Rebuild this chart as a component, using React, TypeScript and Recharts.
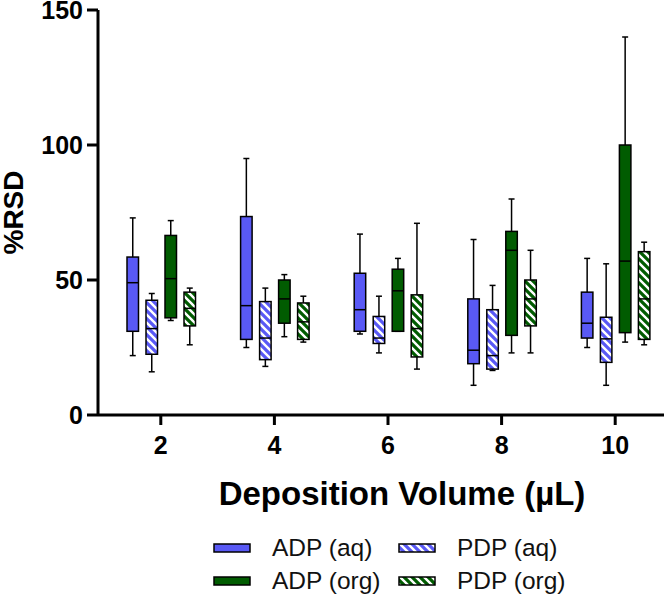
import React from 'react';
import { ComposedChart, Bar, XAxis, YAxis, Legend } from 'recharts';

const categories = ['2', '4', '6', '8', '10'];
// each entry: [min, q1, median, q3, max]
const adpAq = [
  [22, 31, 49, 58.5, 73],
  [25, 28, 40.5, 73.5, 95],
  [30, 31, 39, 52.5, 67],
  [11, 19, 24, 43, 65],
  [25, 28.5, 34, 45.5, 58],
];
const pdpAq = [
  [16, 22.5, 32, 42.5, 45],
  [18, 20.5, 28.5, 42, 47],
  [23, 26.5, 28.5, 36.5, 44],
  [16.5, 17, 22, 39, 48],
  [11, 19.5, 28.2, 36.2, 56],
];
const adpOrg = [
  [35, 36, 50.5, 66.5, 72],
  [29, 34, 43, 50, 52],
  [31, 31, 46, 54, 58],
  [23, 29.5, 61, 68, 80],
  [27, 30.5, 57, 100, 140],
];
const pdpOrg = [
  [26, 33, 39.5, 45.5, 47],
  [27, 28, 34.5, 41.5, 44],
  [17, 21.5, 32, 44.5, 71],
  [23, 33, 43, 50, 61],
  [26, 28, 43, 60.5, 64],
];
const yTicks = [0, 50, 100, 150];

const BLUE = '#5959F5';
const GREEN = '#015C01';
const FONT = '"Liberation Sans", Arial, Helvetica, sans-serif';

const series = [
  { key: 'adpAq', name: 'ADP (aq)', stats: adpAq, color: BLUE, hatched: false },
  { key: 'pdpAq', name: 'PDP (aq)', stats: pdpAq, color: BLUE, hatched: true },
  { key: 'adpOrg', name: 'ADP (org)', stats: adpOrg, color: GREEN, hatched: false },
  { key: 'pdpOrg', name: 'PDP (org)', stats: pdpOrg, color: GREEN, hatched: true },
];

const data = categories.map((cat, i) => {
  const row: any = { cat };
  series.forEach((s) => {
    row[s.key] = [s.stats[i][1], s.stats[i][3]];
  });
  return row;
});

function fillFor(s: any, prefix: string) {
  return s.hatched ? `url(#${prefix}-${s.key})` : s.color;
}

function Patterns({ prefix }: { prefix: string }) {
  return (
    <defs>
      {series.filter((s) => s.hatched).map((s) => (
        <pattern
          key={s.key}
          id={`${prefix}-${s.key}`}
          patternUnits="userSpaceOnUse"
          width={8}
          height={8}
        >
          <rect x={0} y={0} width={8} height={8} fill={s.color} />
          <path d="M-2,-2 L10,10 M-2,6 L2,10 M6,-2 L10,2" stroke="#fff" strokeWidth={2.4} />
        </pattern>
      ))}
    </defs>
  );
}

function makeShape(s: any) {
  return (props: any) => {
    const { x, y, width, height, payload } = props;
    let idx = props.index;
    if (idx === undefined || idx === null) idx = categories.indexOf(payload?.cat);
    const st = s.stats[idx];
    if (!st) return null;
    const [mn, q1, md, q3, mx] = st;
    const top = Math.min(y, y + height);
    const h = Math.abs(height);
    const px = (v: number) => top + (h * (q3 - v)) / (q3 - q1);
    const cx = x + width / 2;
    const cap = 3;
    const sw = 1.5;
    return (
      <g>
        <line x1={cx} x2={cx} y1={px(mx)} y2={top} stroke="#000" strokeWidth={sw} />
        <line x1={cx - cap} x2={cx + cap} y1={px(mx)} y2={px(mx)} stroke="#000" strokeWidth={sw} />
        <line x1={cx} x2={cx} y1={top + h} y2={px(mn)} stroke="#000" strokeWidth={sw} />
        <line x1={cx - cap} x2={cx + cap} y1={px(mn)} y2={px(mn)} stroke="#000" strokeWidth={sw} />
        <rect x={x} y={top} width={width} height={h} fill={fillFor(s, 'pat')} stroke="#000" strokeWidth={sw} />
        <line x1={x} x2={x + width} y1={px(md)} y2={px(md)} stroke="#000" strokeWidth={sw} />
      </g>
    );
  };
}

function renderLegend() {
  const items = [
    { s: series[0], left: 213, top: 15 },
    { s: series[1], left: 398, top: 15 },
    { s: series[2], left: 213, top: 48 },
    { s: series[3], left: 398, top: 48 },
  ];
  return (
    <div style={{ position: 'relative', width: 672, height: 68 }}>
      <svg width={0} height={0} style={{ position: 'absolute' }}>
        <Patterns prefix="lg" />
      </svg>
      {items.map(({ s, left, top }) => (
        <div key={s.key} style={{ position: 'absolute', left, top: top - 15, height: 30, display: 'flex', alignItems: 'center' }}>
          <svg width={40} height={12} style={{ display: 'block' }}>
            <rect x={1} y={2} width={36} height={8} fill={fillFor(s, 'lg')} stroke="#000" strokeWidth={1.5} />
          </svg>
          <span style={{ marginLeft: 19, fontFamily: FONT, fontSize: 24.5, color: '#111', lineHeight: '30px', whiteSpace: 'nowrap' }}>{s.name}</span>
        </div>
      ))}
    </div>
  );
}

const tickStyle = { fontSize: 25, fontWeight: 700, fill: '#000', fontFamily: FONT };

export default function App() {
  return (
    <div style={{ position: 'absolute', left: 0, top: 0, width: 664, height: 601, overflow: 'hidden', background: '#fff' }}>
      <style>{`.recharts-surface{overflow:visible}`}</style>
      <ComposedChart
        width={672}
        height={601}
        data={data}
        margin={{ top: 10, right: 0, left: 0, bottom: 0 }}
        barGap={7.5}
        barSize={11.5}
      >
        <Patterns prefix="pat" />
        <XAxis
          dataKey="cat"
          type="category"
          padding={{ left: 6, right: 0 }}
          height={118}
          axisLine={{ stroke: '#000', strokeWidth: 3 }}
          tickLine={{ stroke: '#000', strokeWidth: 3 }}
          tickSize={10}
          tickMargin={11}
          tick={tickStyle}
          interval={0}
          label={{
            content: (p: any) => {
              const vb = p.viewBox || { x: 98, y: 415 };
              return (
                <text x={vb.x + 304} y={vb.y + 78} textAnchor="middle" dominantBaseline="central" style={{ fontSize: 33, fontWeight: 700, fontFamily: FONT, fill: '#000' }}>
                  Deposition Volume (µL)
                </text>
              );
            },
          }}
        />
        <YAxis
          type="number"
          domain={[0, 150]}
          ticks={yTicks}
          width={98}
          axisLine={{ stroke: '#000', strokeWidth: 3 }}
          tickLine={{ stroke: '#000', strokeWidth: 3 }}
          tickSize={11}
          tickMargin={4}
          tick={tickStyle}
          interval={0}
          label={{
            content: (p: any) => {
              const vb = p.viewBox || { x: 0, y: 10, height: 405 };
              const cx = vb.x + 13;
              const cy = vb.y + vb.height / 2;
              return (
                <text x={cx} y={cy} transform={`rotate(-90 ${cx} ${cy})`} textAnchor="middle" dominantBaseline="central" style={{ fontSize: 28, fontWeight: 700, fontFamily: FONT, fill: '#000' }}>
                  %RSD
                </text>
              );
            },
          }}
        />
        <Legend verticalAlign="bottom" content={renderLegend} wrapperStyle={{ left: 0, width: 672, height: 68, bottom: 0 }} />
        {series.map((s) => (
          <Bar key={s.key} dataKey={s.key} name={s.name} fill={s.color} isAnimationActive={false} shape={makeShape(s)} />
        ))}
      </ComposedChart>
    </div>
  );
}
